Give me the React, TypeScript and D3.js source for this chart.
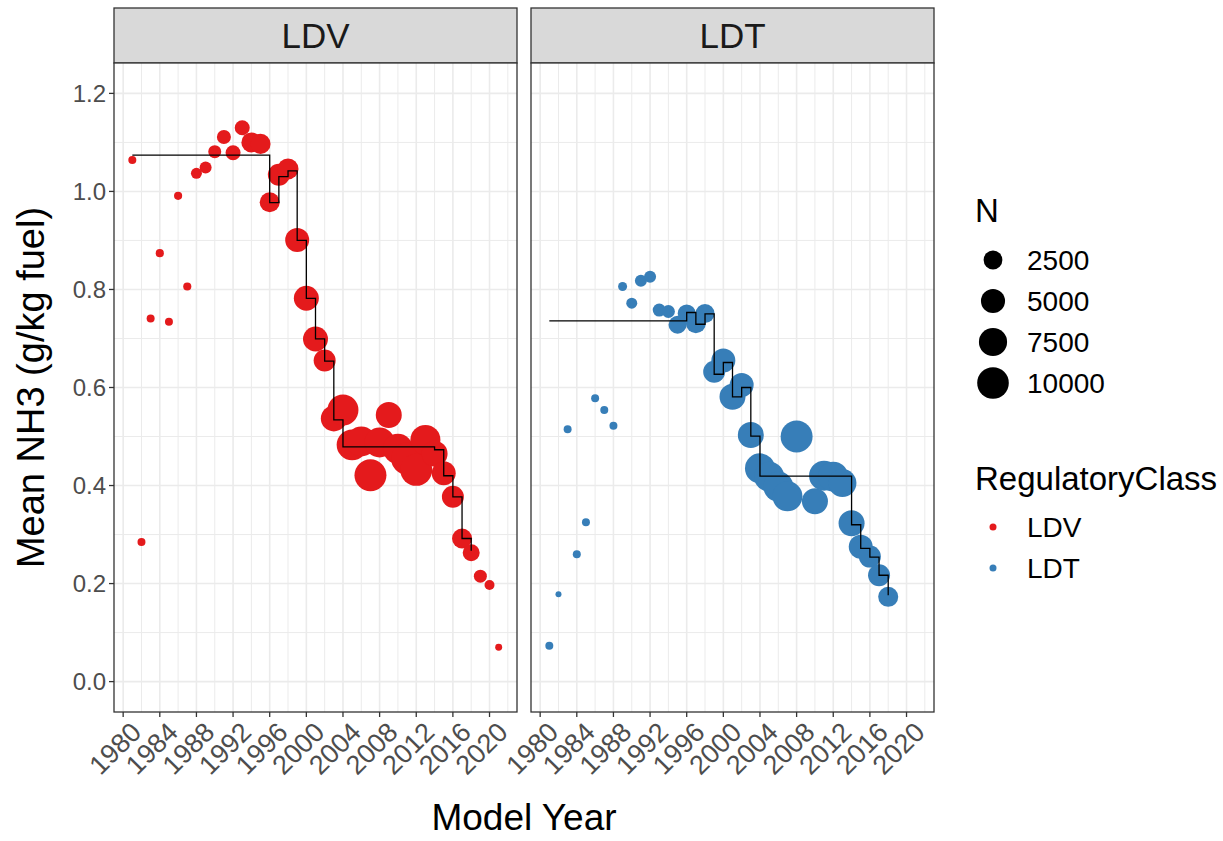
import React from "react";
import * as d3 from "d3";

// LDV points
const ldvYears = [1981, 1982, 1983, 1984, 1985, 1986, 1987, 1988, 1989, 1990, 1991, 1992, 1993, 1994, 1995, 1996, 1997, 1998, 1999, 2000, 2001, 2002, 2003, 2004, 2005, 2006, 2007, 2008, 2009, 2010, 2011, 2012, 2013, 2014, 2015, 2016, 2017, 2018, 2019, 2020, 2021];
const ldvMean = [1.064, 0.285, 0.741, 0.874, 0.734, 0.991, 0.806, 1.037, 1.049, 1.081, 1.111, 1.079, 1.13, 1.1, 1.097, 0.978, 1.034, 1.046, 0.901, 0.782, 0.699, 0.655, 0.537, 0.554, 0.483, 0.49, 0.421, 0.488, 0.544, 0.475, 0.455, 0.432, 0.493, 0.465, 0.425, 0.377, 0.292, 0.263, 0.215, 0.197, 0.07];
const ldvN = [60, 60, 60, 70, 60, 70, 70, 380, 550, 750, 980, 1240, 1240, 3000, 3000, 3000, 3900, 3430, 4940, 5500, 5500, 3900, 6100, 9500, 9500, 8800, 10300, 8800, 6100, 8800, 10300, 10300, 8800, 6100, 4900, 3900, 3000, 1850, 750, 245, 15];

// LDT points
const ldtYears = [1981, 1982, 1983, 1984, 1985, 1986, 1987, 1988, 1989, 1990, 1991, 1992, 1993, 1994, 1995, 1996, 1997, 1998, 1999, 2000, 2001, 2002, 2003, 2004, 2005, 2006, 2007, 2008, 2010, 2011, 2012, 2013, 2014, 2015, 2016, 2017, 2018];
const ldtMean = [0.073, 0.178, 0.515, 0.26, 0.325, 0.578, 0.554, 0.522, 0.806, 0.772, 0.818, 0.826, 0.758, 0.755, 0.728, 0.751, 0.731, 0.751, 0.632, 0.655, 0.581, 0.605, 0.503, 0.435, 0.418, 0.398, 0.378, 0.5, 0.368, 0.42, 0.418, 0.405, 0.323, 0.275, 0.255, 0.217, 0.173];
const ldtN = [60, 0, 60, 60, 60, 60, 60, 60, 140, 380, 550, 550, 750, 750, 2200, 2200, 3000, 2580, 3900, 4940, 6100, 4940, 6100, 8800, 8800, 8800, 8800, 10300, 6100, 8800, 8800, 7400, 6100, 4940, 3900, 3900, 3000];

// weighted means per model year (step line)
const ldvStepYears = [1981, 1996, 1997, 1998, 1999, 2000, 2001, 2002, 2003, 2004, 2014, 2015, 2016, 2017, 2018];
const ldvStepMean = [1.074, 0.977, 1.03, 1.042, 0.9, 0.782, 0.699, 0.654, 0.534, 0.479, 0.473, 0.42, 0.377, 0.292, 0.267];
const ldtStepYears = [1981, 1996, 1997, 1998, 1999, 2000, 2001, 2002, 2003, 2004, 2014, 2015, 2016, 2017, 2018];
const ldtStepMean = [0.736, 0.753, 0.729, 0.75, 0.627, 0.651, 0.581, 0.6, 0.501, 0.419, 0.32, 0.272, 0.254, 0.217, 0.176];

const yearTicks = [1980, 1984, 1988, 1992, 1996, 2000, 2004, 2008, 2012, 2016, 2020];
const yearMinor = [1982, 1986, 1990, 1994, 1998, 2002, 2006, 2010, 2014, 2018, 2022];
const meanTicks = [0, 0.2, 0.4, 0.6, 0.8, 1.0, 1.2];
const meanMinor = [0.1, 0.3, 0.5, 0.7, 0.9, 1.1];
const sizeBreaks = [2500, 5000, 7500, 10000];
const classes = ["LDV", "LDT"];
const classColors = ["#E41A1C", "#377EB8"];

const font = "'Liberation Sans', Arial, sans-serif";

const panelTop = 63;
const panelH = 649;
const panelW = 403;
const stripH = 55;

const x = d3.scaleLinear().domain([1979, 2023]).range([0, panelW]);
const y = d3.scaleLinear().domain([-0.062, 1.262]).range([panelH, 0]);
const r = d3.scaleSqrt().domain([0, 10000]).range([3, 15.8]);

const step = d3
    .line<[number, number]>()
    .x(d => x(d[0]))
    .y(d => y(d[1]))
    .curve(d3.curveStepAfter);

const panels = [
    {name: "LDV", left: 114, color: classColors[0], years: ldvYears, mean: ldvMean, n: ldvN, sy: ldvStepYears, sm: ldvStepMean},
    {name: "LDT", left: 531, color: classColors[1], years: ldtYears, mean: ldtMean, n: ldtN, sy: ldtStepYears, sm: ldtStepMean},
];

const Panel = ({p, first}) => {
    const pts = p.years.map((yr, i) => ({yr, v: p.mean[i], n: p.n[i]}));
    const stepPts = p.sy.map((yr, i) => [yr, p.sm[i]] as [number, number]);
    return (
        <g transform={`translate(${p.left},${panelTop})`}>
            {/* strip */}
            <rect x={0} y={-stripH} width={panelW} height={stripH} fill="#D9D9D9" stroke="#333333" strokeWidth={1.3}/>
            <text x={panelW / 2} y={-stripH / 2} dy="0.36em" textAnchor="middle" fontSize={35} fill="#1A1A1A">{p.name}</text>
            <rect x={0} y={0} width={panelW} height={panelH} fill="#FFFFFF"/>
            {/* grid */}
            {meanMinor.map(t => <line key={"ym" + t} x1={0} x2={panelW} y1={y(t)} y2={y(t)} stroke="#EBEBEB" strokeWidth={1}/>)}
            {yearMinor.map(t => <line key={"xm" + t} x1={x(t)} x2={x(t)} y1={0} y2={panelH} stroke="#EBEBEB" strokeWidth={1}/>)}
            {meanTicks.map(t => <line key={"y" + t} x1={0} x2={panelW} y1={y(t)} y2={y(t)} stroke="#EBEBEB" strokeWidth={1.6}/>)}
            {yearTicks.map(t => <line key={"x" + t} x1={x(t)} x2={x(t)} y1={0} y2={panelH} stroke="#EBEBEB" strokeWidth={1.6}/>)}
            {/* points */}
            {pts.map(d => <circle key={d.yr} cx={x(d.yr)} cy={y(d.v)} r={r(d.n)} fill={p.color}/>)}
            <path d={step(stepPts)} fill="none" stroke="#000000" strokeWidth={1.3}/>
            <rect x={0} y={0} width={panelW} height={panelH} fill="none" stroke="#333333" strokeWidth={1.3}/>
            {/* x axis */}
            {yearTicks.map(t => (
                <g key={"xt" + t} transform={`translate(${x(t)},${panelH})`}>
                    <line y1={0} y2={5} stroke="#333333" strokeWidth={1.3}/>
                    <text transform="translate(6,8) rotate(-45)" textAnchor="end" dy="0.72em" fontSize={27} fill="#4D4D4D">{t}</text>
                </g>
            ))}
            {/* y axis */}
            {first && meanTicks.map(t => (
                <g key={"yt" + t} transform={`translate(0,${y(t)})`}>
                    <line x1={-5} x2={0} stroke="#333333" strokeWidth={1.3}/>
                    <text x={-8} dy="0.36em" textAnchor="end" fontSize={24} fill="#4D4D4D">{t.toFixed(1)}</text>
                </g>
            ))}
        </g>
    );
};

export default function App() {
    return (
        <svg width={1223} height={841} style={{position: "absolute", left: 0, top: 0, background: "#FFFFFF"}} fontFamily={font}>
            <rect width={1223} height={841} fill="#FFFFFF"/>
            {panels.map((p, i) => <Panel key={p.name} p={p} first={i === 0}/>)}
            <text transform={`translate(44,${panelTop + panelH / 2}) rotate(-90)`} textAnchor="middle" fontSize={38} fill="#000000">Mean NH3 (g/kg fuel)</text>
            <text x={524} y={830} textAnchor="middle" fontSize={37} fill="#000000">Model Year</text>
            {/* size legend */}
            <g transform="translate(975,0)">
                <text x={0} y={222} fontSize={33} fill="#000000">N</text>
                {sizeBreaks.map((b, i) => (
                    <g key={b} transform={`translate(18,${260 + i * 41})`}>
                        <circle r={r(b)} fill="#000000"/>
                        <text x={34} dy="0.36em" fontSize={28} fill="#000000">{b}</text>
                    </g>
                ))}
                <text x={0} y={490} fontSize={33} fill="#000000">RegulatoryClass</text>
                {classes.map((c, i) => (
                    <g key={c} transform={`translate(18,${527 + i * 41})`}>
                        <circle r={3.5} fill={classColors[i]}/>
                        <text x={34} dy="0.36em" fontSize={28} fill="#000000">{c}</text>
                    </g>
                ))}
            </g>
        </svg>
    );
}
